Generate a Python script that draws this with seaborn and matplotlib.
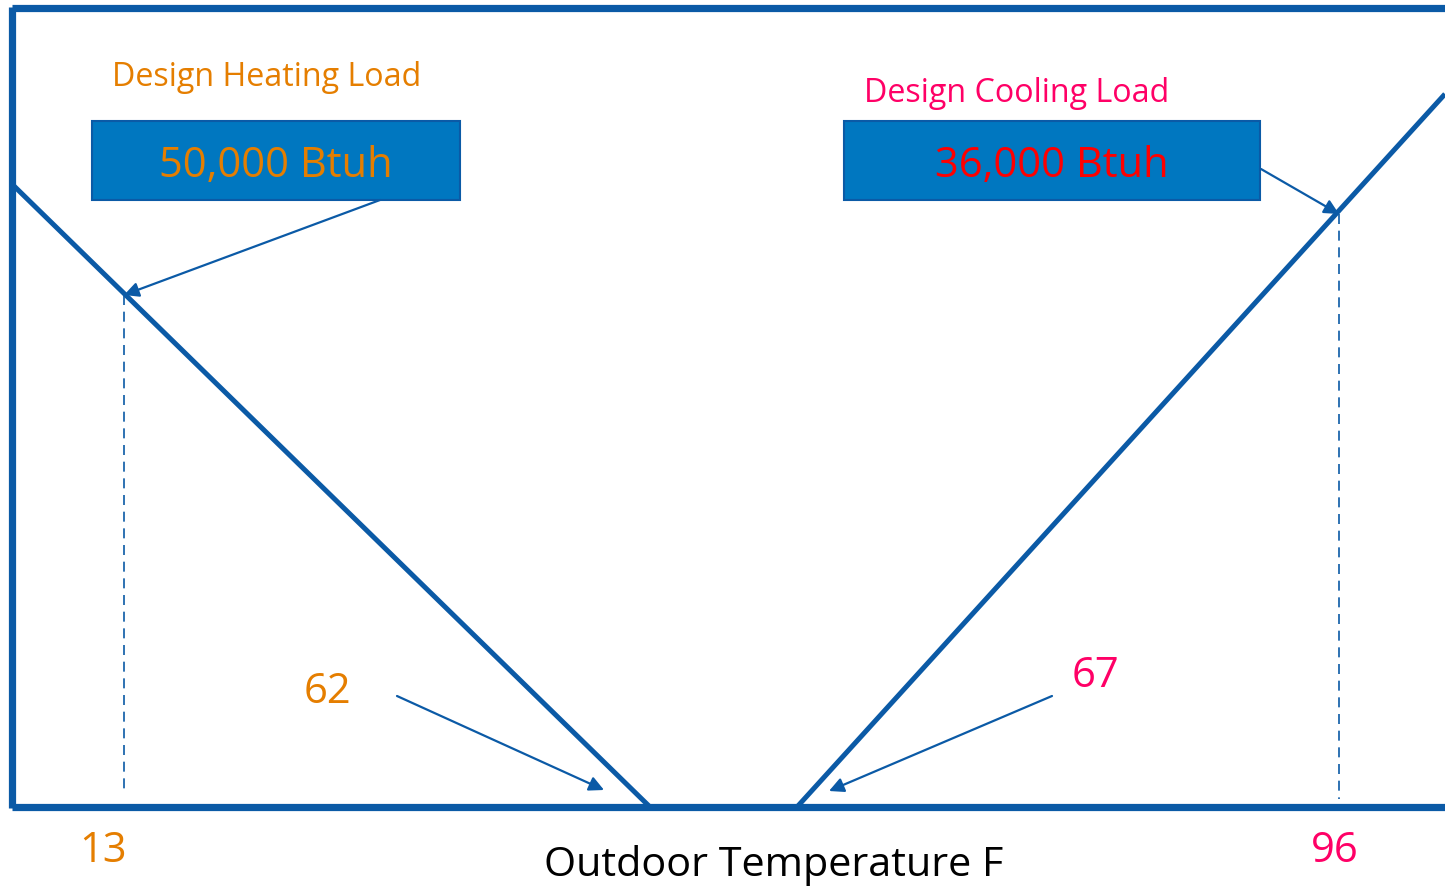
import matplotlib
matplotlib.use("Agg")
import matplotlib.pyplot as plt
import seaborn as sns
import pandas as pd
from matplotlib.patches import Rectangle

sns.set_theme(style="white")
plt.rcParams["font.family"] = ["Open Sans", "DejaVu Sans"]

# Schematic chart space: x grows to the right, y grows downward (load axis inverted)
W, H = 1445, 887

# Frame (left, top, bottom edges)
frame_left_x = [11.5, 11.5]
frame_left_y = [8, 809]
frame_top_x = [11.5, 1445]
frame_top_y = [8.5, 8.5]
frame_bottom_x = [11.5, 1445]
frame_bottom_y = [808.5, 808.5]

# Load lines
heating_x = [14, 650]
heating_y = [187, 808]
cooling_x = [797, 1445]
cooling_y = [808, 95]

# Design points and balance points
design_heat_x, design_heat_y = 124, 296
design_cool_x, design_cool_y = 1339, 213

# Labels
heat_title = "Design Heating Load"
cool_title = "Design Cooling Load"
heat_value = "50,000 Btuh"
cool_value = "36,000 Btuh"
temp_labels = ["13", "62", "67", "96"]
xlabel = "Outdoor Temperature F"

BLUE = "#0B5AA6"
BOX = "#0077C0"
ORANGE = "#E57E00"
PINK = "#FF0066"
RED = "#FF0000"

fig = plt.figure(figsize=(W / 100, H / 100), dpi=100)
ax = fig.add_axes([0, 0, 1, 1])
ax.set_xlim(0, W)
ax.set_ylim(H, 0)
ax.axis("off")

def seg(xs, ys, lw, **kw):
    df = pd.DataFrame({"x": xs, "y": ys})
    sns.lineplot(data=df, x="x", y="y", ax=ax, color=BLUE, linewidth=lw,
                 sort=False, estimator=None, **kw)

seg(frame_top_x, frame_top_y, 5.2, solid_capstyle="butt")
seg(frame_left_x, frame_left_y, 5.2, solid_capstyle="butt")
seg(frame_bottom_x, frame_bottom_y, 5.2, solid_capstyle="butt")
seg(heating_x, heating_y, 3.6, solid_capstyle="butt")
seg(cooling_x, cooling_y, 3.6, solid_capstyle="butt")

# Dashed drop lines from the design points
seg([design_heat_x, design_heat_x], [design_heat_y, 795], 1.2, linestyle=(0, (6, 4)))
seg([design_cool_x, design_cool_x], [design_cool_y + 2, 800], 1.2, linestyle=(0, (6, 4)))

# Value boxes
ax.add_patch(Rectangle((91.5, 121.5), 368.5, 79.5, facecolor=BOX, edgecolor=BLUE, lw=1.5, zorder=3))
ax.add_patch(Rectangle((844, 121.5), 416, 79.5, facecolor=BOX, edgecolor=BLUE, lw=1.5, zorder=3))
ax.text(275.5, 166, heat_value, color=ORANGE, fontsize=30, ha="center", va="center", zorder=4)
ax.text(1052, 166, cool_value, color=RED, fontsize=30, ha="center", va="center", zorder=4)

ax.text(112, 77, heat_title, color=ORANGE, fontsize=23.2, ha="left", va="center")
ax.text(864, 93, cool_title, color=PINK, fontsize=23.2, ha="left", va="center")

# Arrows
arrow = dict(arrowstyle="-|>", color=BLUE, lw=1.6, mutation_scale=22, shrinkA=0, shrinkB=0)
ax.annotate("", xy=(design_heat_x, design_heat_y), xytext=(380, 201), arrowprops=arrow)
ax.annotate("", xy=(design_cool_x, design_cool_y + 2), xytext=(1261, 170), arrowprops=arrow)
ax.annotate("", xy=(604, 791), xytext=(397, 697), arrowprops=arrow)
ax.annotate("", xy=(829, 792), xytext=(1052, 697), arrowprops=arrow)

# Temperature labels
ax.text(103, 851, temp_labels[0], color=ORANGE, fontsize=30, ha="center", va="center")
ax.text(327, 692, temp_labels[1], color=ORANGE, fontsize=30, ha="center", va="center")
ax.text(1095, 676, temp_labels[2], color=PINK, fontsize=30, ha="center", va="center")
ax.text(1335, 851, temp_labels[3], color=PINK, fontsize=30, ha="center", va="center")

ax.text(774, 866, xlabel, color="black", fontsize=29.8, ha="center", va="center")

fig.savefig("out.png", dpi=100, facecolor="white")
